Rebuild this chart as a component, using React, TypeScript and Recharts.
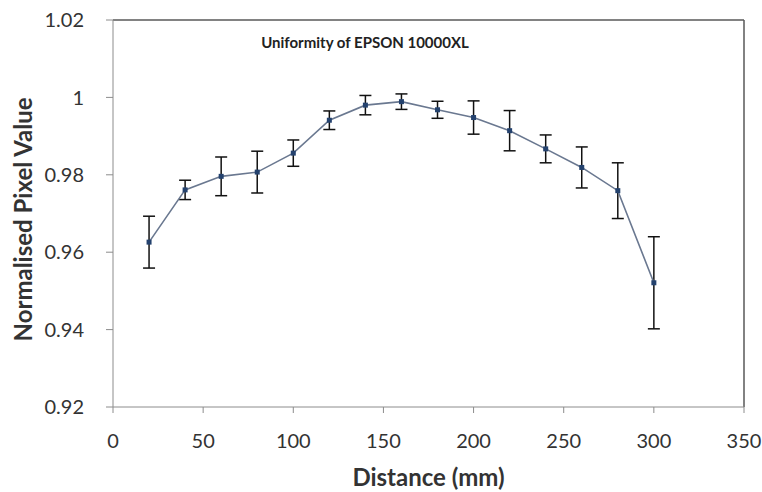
import {
  ErrorBar,
  Line,
  LineChart,
  ReferenceLine,
  XAxis,
  YAxis,
} from "recharts"

const distance = [20, 40, 60, 80, 100, 120, 140, 160, 180, 200, 220, 240, 260, 280, 300]
const pixelValue = [
  0.9626, 0.9761, 0.9796, 0.9807, 0.9856, 0.9941, 0.998, 0.9989, 0.9968, 0.9948, 0.9914,
  0.9867, 0.9819, 0.9759, 0.9521,
]
const errorSize = [
  0.0067, 0.0025, 0.005, 0.0054, 0.0034, 0.0024, 0.0025, 0.002, 0.0022, 0.0043, 0.0052,
  0.0036, 0.0053, 0.0072, 0.0119,
]
const xTicks = [0, 50, 100, 150, 200, 250, 300, 350]
const yTicks = [0.92, 0.94, 0.96, 0.98, 1, 1.02]

const data = distance.map((d, i) => ({ distance: d, value: pixelValue[i], err: errorSize[i] }))

const font = "Lato, 'Open Sans', sans-serif"

function SquareDot(props: any) {
  const { cx, cy } = props
  if (cx == null || cy == null) return null
  return <rect x={cx - 2.5} y={cy - 2.5} width={5} height={5} fill="#24426e" />
}

export default function App() {
  return (
    <div style={{ position: "absolute", left: 0, top: 0, width: 762, height: 492, background: "#fff" }}>
      <LineChart
        width={762}
        height={492}
        data={data}
        margin={{ top: 20, right: 18, bottom: 55, left: 53 }}
      >
        <XAxis
          type="number"
          dataKey="distance"
          domain={[0, 350]}
          ticks={xTicks}
          stroke="#8c8c8c"
          tick={{ fill: "#333", fontSize: 20, fontFamily: font }}
          tickSize={6}
          tickMargin={21}
          height={30}
          label={{
            value: "Distance (mm)",
            position: "bottom",
            offset: 32,
            style: { fill: "#333", fontSize: 24, fontWeight: 700, fontFamily: font },
          }}
        />
        <YAxis
          type="number"
          domain={[0.92, 1.02]}
          ticks={yTicks}
          width={60}
          stroke="#8c8c8c"
          tick={{ fill: "#333", fontSize: 20, fontFamily: font }}
          tickSize={7}
          tickMargin={22}
          tickFormatter={(v: number) => String(Number(v.toFixed(2)))}
          label={{
            value: "Normalised Pixel Value",
            angle: -90,
            position: "center",
            dx: -60,
            dy: 6,
            style: { fill: "#333", fontSize: 24, fontWeight: 700, fontFamily: font },
          }}
        />
        <ReferenceLine y={1.02} stroke="#595959" strokeWidth={1.5} />
        <ReferenceLine x={350} stroke="#595959" strokeWidth={1.5} />
        <Line
          dataKey="value"
          stroke="#6a7890"
          strokeWidth={1.6}
          dot={<SquareDot />}
          activeDot={false}
          isAnimationActive={false}
        >
          <ErrorBar dataKey="err" width={6} stroke="#111" strokeWidth={1.5} direction="y" />
        </Line>
      </LineChart>
      <div
        style={{
          position: "absolute",
          left: 0,
          width: 730,
          top: 33,
          textAlign: "center",
          fontFamily: font,
          fontWeight: 700,
          fontSize: 15,
          color: "#222",
        }}
      >
        Uniformity of EPSON 10000XL
      </div>
    </div>
  )
}
